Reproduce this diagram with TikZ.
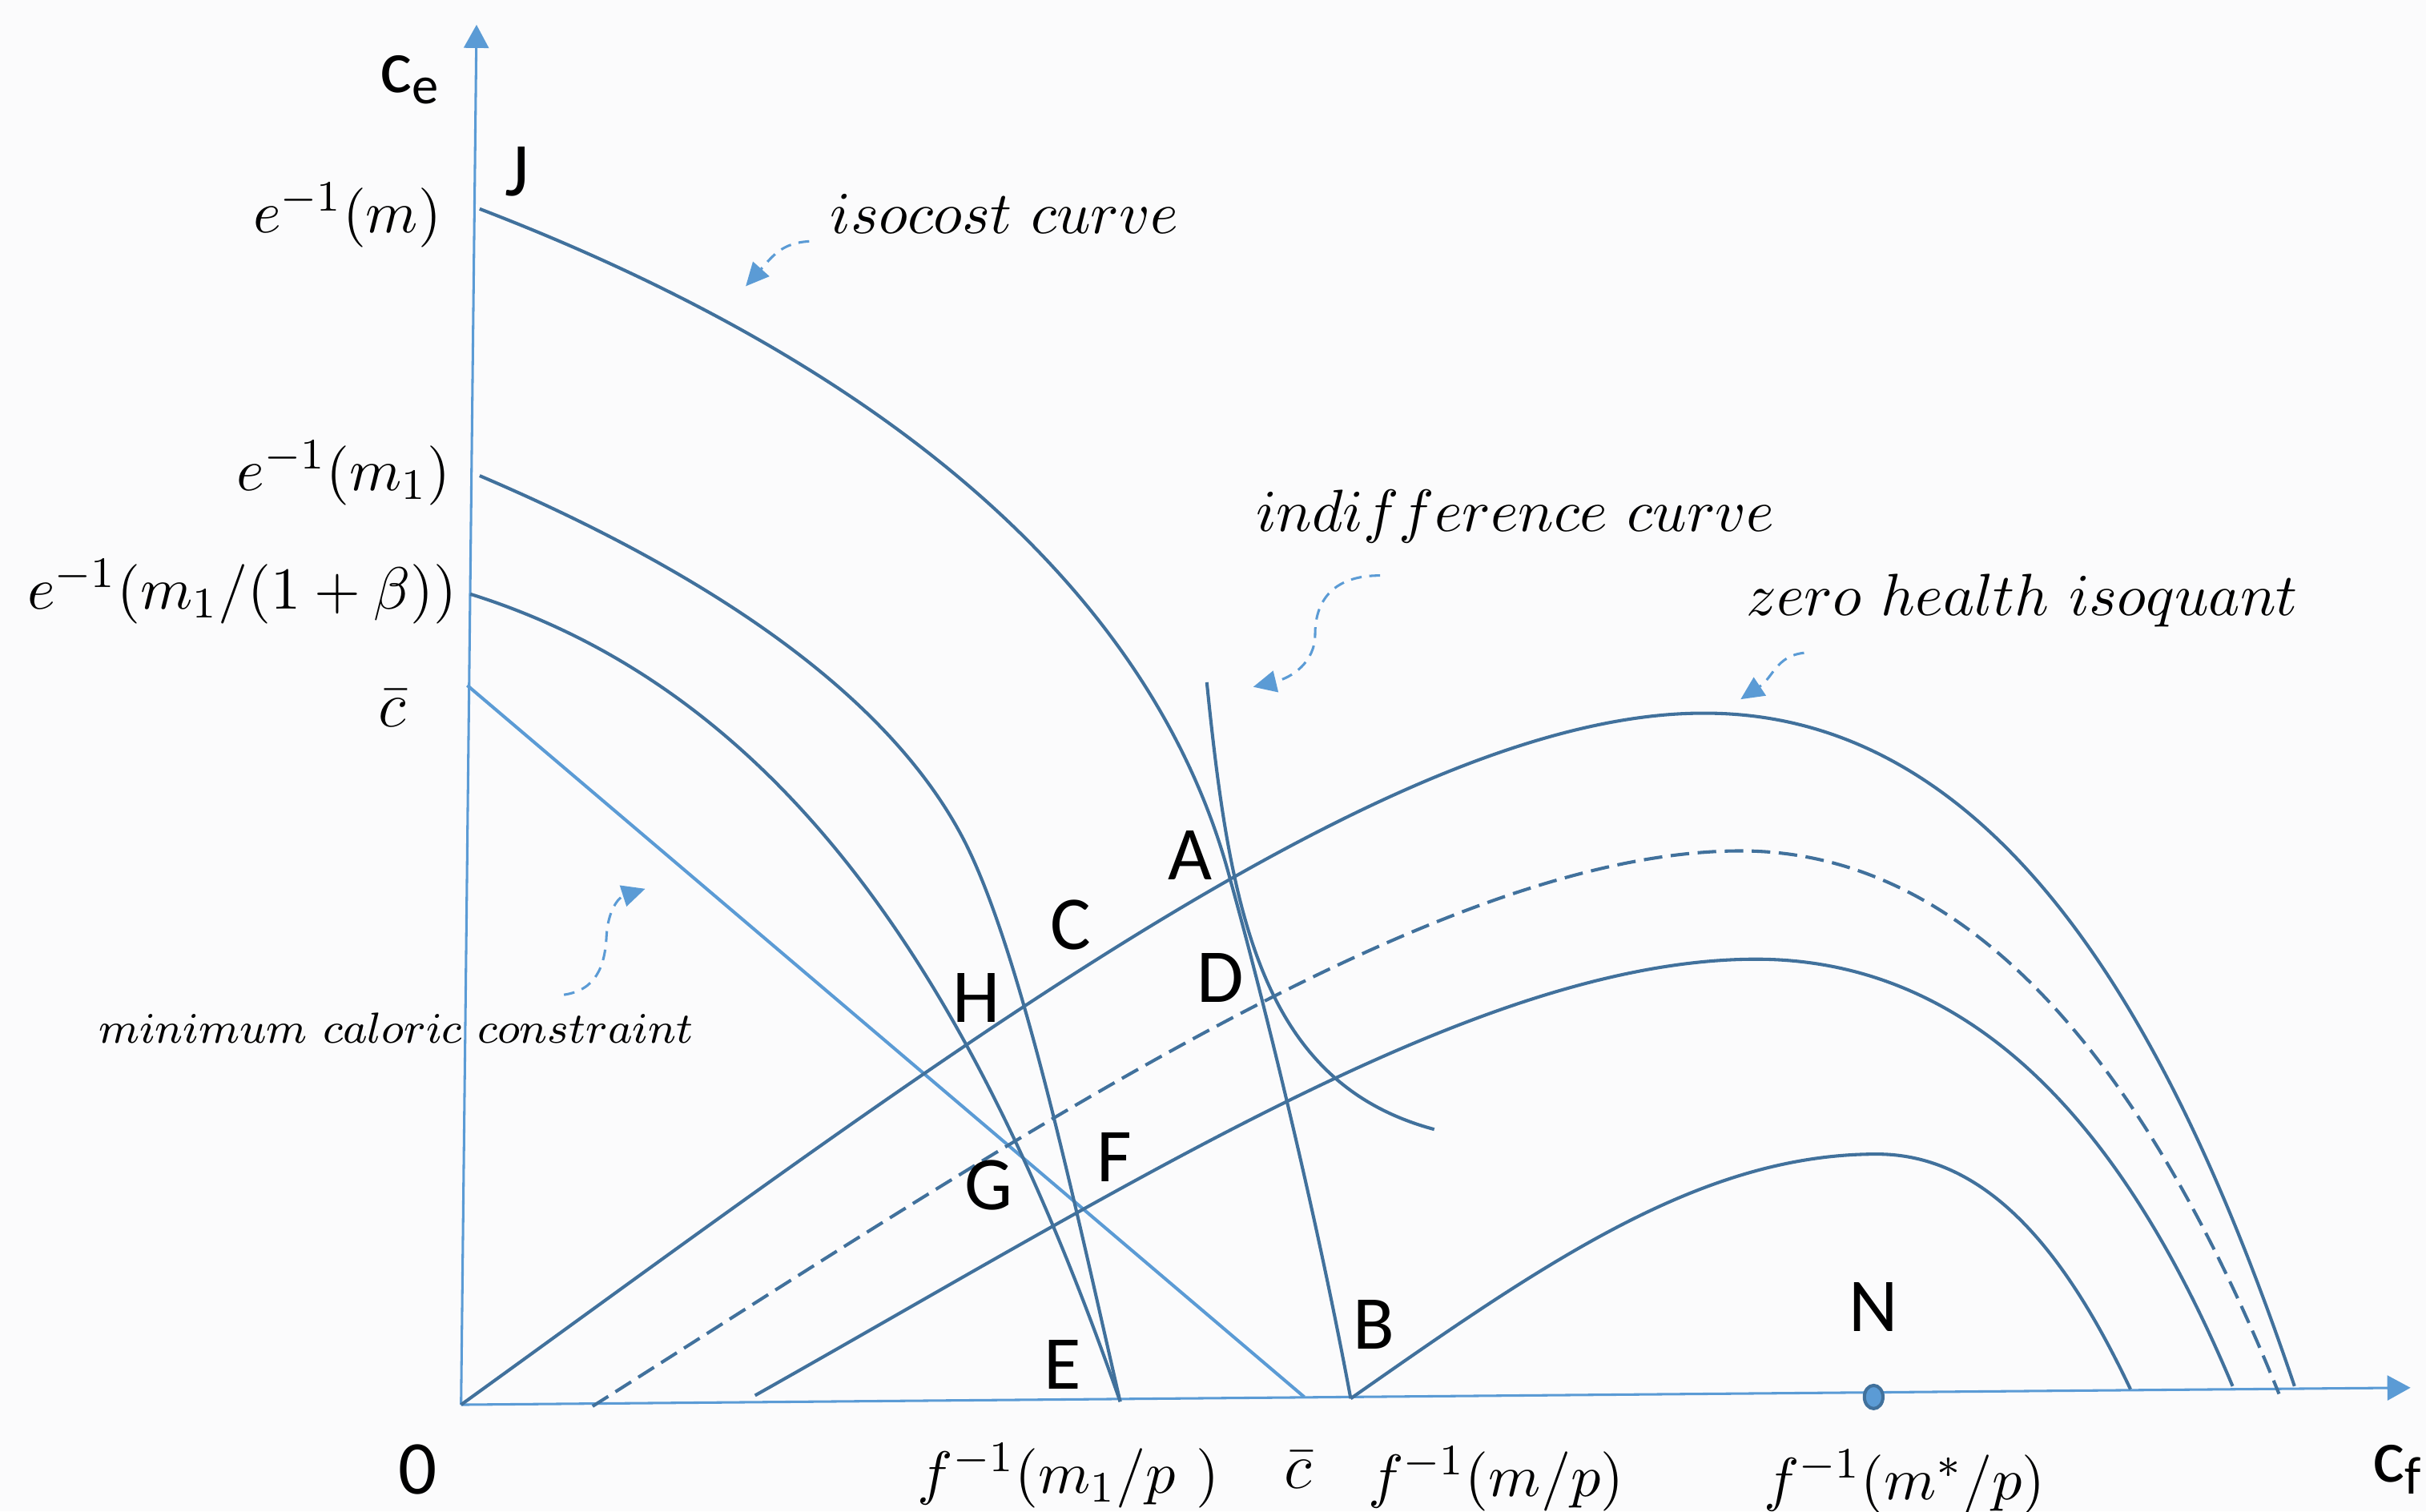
\documentclass[tikz,border=0pt]{standalone}
\usepackage{fontspec}
\setsansfont{Carlito}
\usetikzlibrary{arrows.meta,shapes.geometric}
\definecolor{isoblue}{HTML}{41719C}
\definecolor{axblue}{HTML}{5B9BD5}
\definecolor{pagebg}{HTML}{FBFBFC}
\begin{document}
\begin{tikzpicture}[x=0.1mm,y=-0.1mm,
	curve/.style={isoblue,line width=0.6pt},
	axisline/.style={axblue,line width=0.45pt,-{Triangle[length=1.5mm,width=1.6mm]}},
	minline/.style={axblue,line width=0.6pt},
	note/.style={axblue,line width=0.45pt,dash pattern=on 0.7mm off 0.5mm,-{Triangle[length=1.5mm,width=1.4mm]}},
	pt/.style={font=\sffamily\fontsize{14}{14}\selectfont,inner sep=0pt},
	lab/.style={font=\fontsize{11.2}{11.2}\selectfont,inner sep=0pt},
	notelab/.style={font=\fontsize{10.8}{10.8}\selectfont,inner sep=0pt,anchor=base west},
	]
	\fill[pagebg] (0,0) rectangle (1568,977);
	\useasboundingbox (0,0) rectangle (1568,977);
	
	\coordinate (O) at (298,908);
	\coordinate (ytip) at (308,16);
	\coordinate (xtip) at (1558,897);
	\coordinate (cbary) at (302,443);
	\coordinate (cbarx) at (843,903);
	\coordinate (J0) at (310,135);
	\coordinate (Apt) at (795,568);
	\coordinate (Bpt) at (873,904);
	\coordinate (Em1) at (724,906);
	
	\draw[axisline] (O) -- (ytip);
	\draw[axisline] (O) -- (xtip);
	\draw[minline] (cbary) -- (cbarx);
	
	\draw[curve] (J0) .. controls (570,235) and (745,380) .. (Apt) .. controls (815,640) and (850,780) .. (Bpt);
	\draw[curve] (780,441) .. controls (795,590) and (815,700) .. (927,730);
	\draw[curve] (310,307.5) .. controls (480,380) and (580,460) .. (623,543) .. controls (660,615) and (695,780) .. (Em1);
	\draw[curve] (304,384) .. controls (515,450) and (635,650) .. (Em1);
	
	\draw[curve] (O) .. controls (600,690) and (900,460) .. (1102,461) .. controls (1300,461) and (1410,680) .. (1483,896);
	\draw[curve,dash pattern=on 1.2mm off 0.55mm] (383,909) .. controls (650,740) and (930,550) .. (1125,550) .. controls (1290,550) and (1400,720) .. (1473,901);
	\draw[curve] (488,902) .. controls (740,760) and (960,620) .. (1135,620) .. controls (1300,620) and (1390,770) .. (1443,896);
	\draw[curve] (Bpt) .. controls (1000,815) and (1100,746) .. (1213,746) .. controls (1290,746) and (1340,820) .. (1377,898);
	
	\node[ellipse,draw=isoblue,fill=axblue,line width=0.6pt,minimum width=1.2mm,minimum height=1.5mm,inner sep=0pt] (Ndot) at (1211,903) {};
	
	\draw[note] (523,156) .. controls (505,157) and (499,166) .. (482,185);
	\draw[note] (892,372) .. controls (860,372) and (850,390) .. (850,410) .. controls (850,428) and (835,438) .. (810,444);
	\draw[note] (1166,422) .. controls (1148,424) and (1146,438) .. (1125,452);
	\draw[note] (364.5,643) .. controls (385,640) and (391,625) .. (392,605) .. controls (393,588) and (400,580) .. (417,574.5);
	
	\node[pt,anchor=base west] (ce) at (245,59.6) {c\textsubscript{e}};
	\node[pt,anchor=base west] (cf) at (1533,958) {c\textsubscript{f}};
	\node[pt] (zero) at (270,950) {0};
	\node[pt] (J) at (334,111) {J};
	\node[pt] (A) at (769,553) {A};
	\node[pt] (B) at (888,856) {B};
	\node[pt] (C) at (692,598) {C};
	\node[pt] (D) at (789,632) {D};
	\node[pt] (E) at (687,882) {E};
	\node[pt] (F) at (720,748) {F};
	\node[pt] (G) at (639,766) {G};
	\node[pt] (H) at (631,645) {H};
	\node[pt] (N) at (1211,845) {N};
	
	\node[lab,anchor=base east] (em) at (286,150.6) {$e^{-1}(m)$};
	\node[lab,anchor=base east] (emone) at (292,317) {$e^{-1}(m_1)$};
	\node[lab,anchor=base east] (embeta) at (296,393.6) {$e^{-1}(m_1/(1+\beta))$};
	\node[lab,anchor=base,font=\fontsize{13}{13}\selectfont] (cbarylab) at (253.5,470) {$\bar{c}$};
	\node[lab,anchor=base] (fmone) at (690.5,965) {$f^{-1}(m_1/p\ )$};
	\node[lab,anchor=base,font=\fontsize{13}{13}\selectfont] (cbarxlab) at (839,962) {$\bar{c}$};
	\node[lab,anchor=base] (fm) at (967,967) {$f^{-1}(m/p)$};
	\node[lab,anchor=base] (fmstar) at (1231,969.5) {$f^{-1}(m^*/p)$};
	
	\node[notelab,font=\fontsize{11}{11}\selectfont] (isolab) at (536,151) {$isocost\ curve$};
	\node[notelab] (indlab) at (811,343.5) {$indifference\ curve$};
	\node[notelab] (zerolab) at (1128,398) {$zero\ health\ isoquant$};
	\node[notelab,font=\fontsize{8.1}{8.1}\selectfont] (minlab) at (63,674) {$minimum\ caloric\ constraint$};
\end{tikzpicture}
\end{document}
